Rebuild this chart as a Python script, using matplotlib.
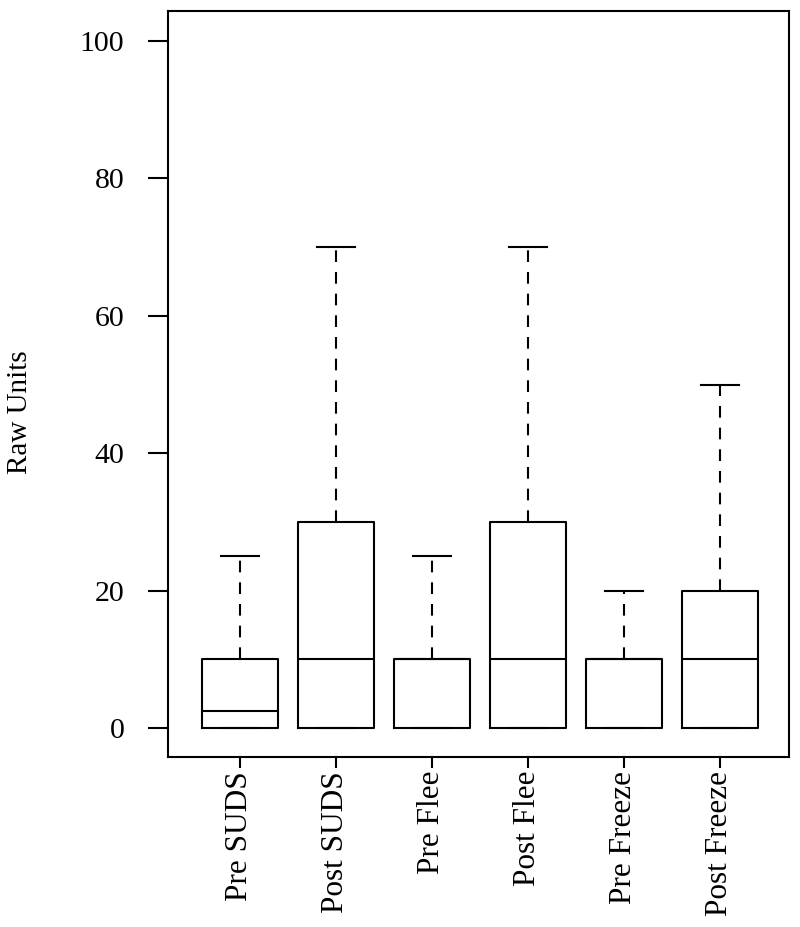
import matplotlib
matplotlib.use("Agg")
import matplotlib.pyplot as plt

# values
labels = ["Pre SUDS", "Post SUDS", "Pre Flee", "Post Flee", "Pre Freeze", "Post Freeze"]
whislo = [0, 0, 0, 0, 0, 0]
q1 = [0, 0, 0, 0, 0, 0]
med = [2.5, 10, 10, 10, 10, 10]
q3 = [10, 30, 10, 30, 10, 20]
whishi = [25, 70, 25, 70, 20, 50]
yticks = [0, 20, 40, 60, 80, 100]

plt.rcParams['font.family'] = ['Liberation Serif', 'DejaVu Serif']

stats = []
for i in range(len(labels)):
    stats.append({"label": labels[i], "whislo": whislo[i], "q1": q1[i], "med": med[i],
                  "q3": q3[i], "whishi": whishi[i], "fliers": []})

fig = plt.figure(figsize=(8, 9.27), dpi=100)
ax = fig.add_axes([168 / 800, 1 - 757 / 927, 621 / 800, 746 / 927])

lw = 1.5
ax.bxp(stats, positions=range(1, len(labels) + 1), widths=0.79, showfliers=False,
       boxprops=dict(color="black", linewidth=lw),
       medianprops=dict(color="black", linewidth=lw),
       whiskerprops=dict(color="black", linewidth=lw, linestyle=(0, (5.6, 4.8))),
       capprops=dict(color="black", linewidth=lw),
       capwidths=0.4)

ax.set_xlim(0.25, 6.72)
ax.set_ylim(-4.22, 104.37)
ax.set_yticks(yticks)
ax.set_yticklabels([str(v) for v in yticks], fontsize=21.5, family="Liberation Serif")
ax.set_xticks(range(1, len(labels) + 1))
ax.set_xticklabels(labels, rotation=90, fontsize=22.5, va="top", ha="center",
                   family="Liberation Serif")
ax.tick_params(axis="y", length=14.4, width=lw, pad=17)
ax.tick_params(axis="x", length=8, width=lw, pad=2)
for s in ax.spines.values():
    s.set_linewidth(lw)

fig.text(20 / 800, 1 - 412 / 927, "Raw Units", rotation=90, ha="center", va="center",
         fontsize=21, family="Liberation Serif")

fig.savefig("out.png", dpi=100)
